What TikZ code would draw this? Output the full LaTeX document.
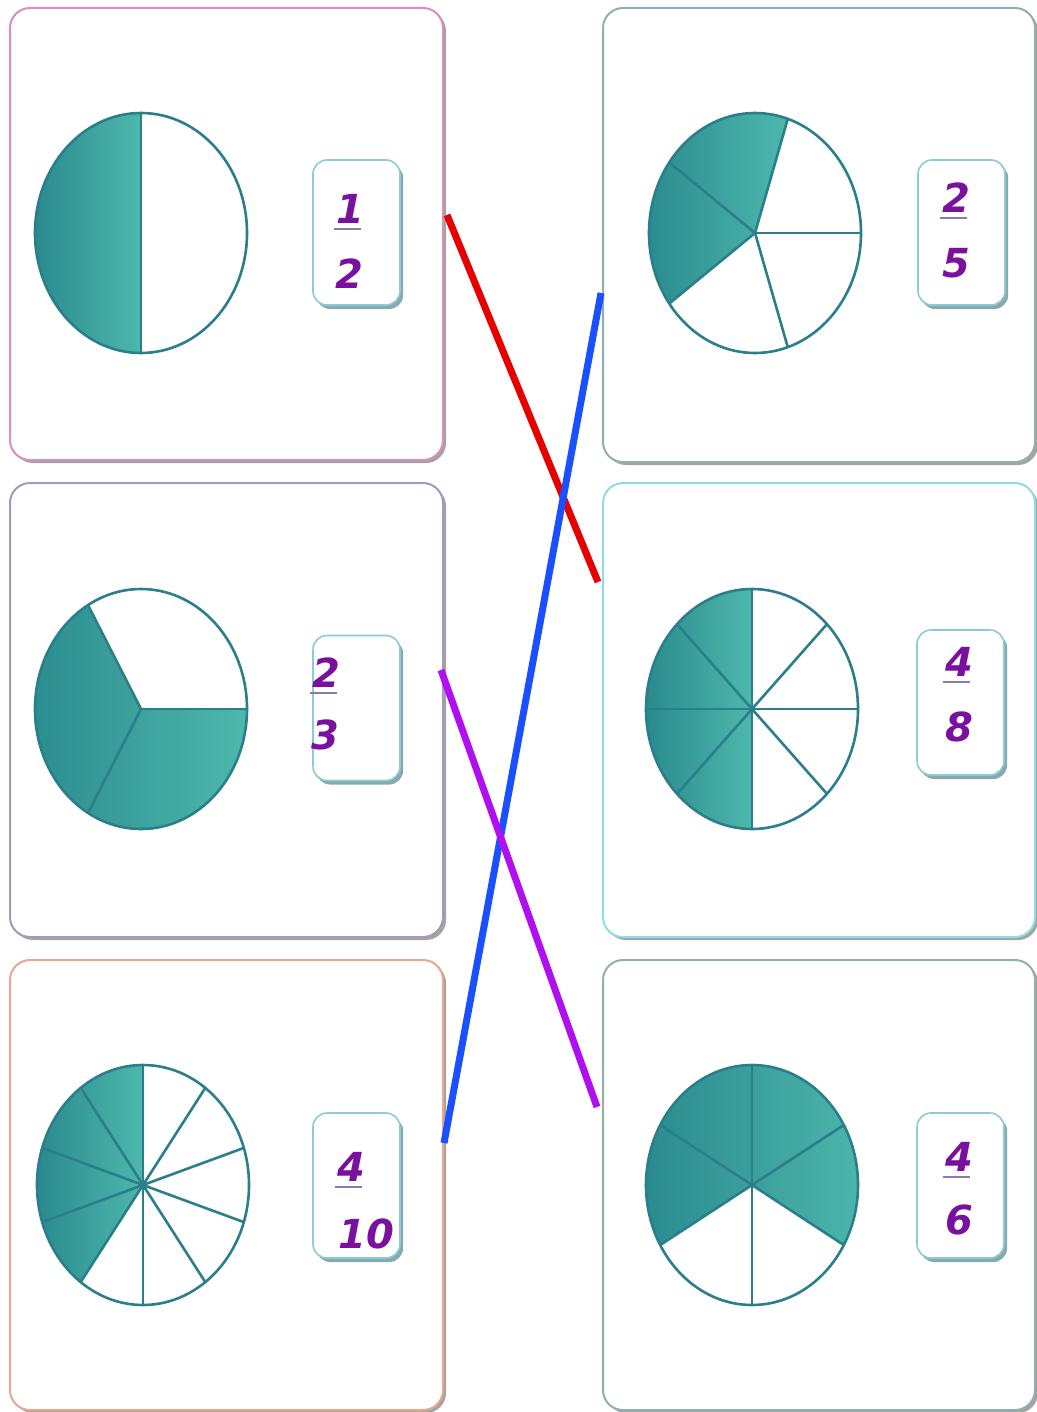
\documentclass[tikz,border=0pt]{standalone}
\usepackage{fontspec}
\newfontfamily\numfont{DejaVu Sans}
\usetikzlibrary{shadows}
\definecolor{tealdark}{HTML}{2A8A8E}
\definecolor{teallight}{HTML}{4DB8AC}
\definecolor{tealline}{HTML}{2A7F8A}
\definecolor{numcol}{HTML}{7A109E}
\definecolor{ulcol}{HTML}{8A7AB0}
\definecolor{bL1}{HTML}{D88FB8}
\definecolor{bL2}{HTML}{A898B8}
\definecolor{bL3}{HTML}{E8A890}
\definecolor{bR1}{HTML}{90B0B0}
\definecolor{bR2}{HTML}{8EDDE6}
\definecolor{bR3}{HTML}{90B0B0}
\definecolor{fbox}{HTML}{8CCBD3}
\definecolor{fshadow}{HTML}{5E8E96}
\definecolor{redline}{HTML}{E60000}
\definecolor{blueline}{HTML}{1A50FF}
\definecolor{purpline}{HTML}{B010F0}
\newcommand\fracpie[4]{%
  \shade[left color=tealdark,right color=teallight] (#1) -- ++(#3:53pt and 60pt)
    arc[start angle=#3,end angle=#4,x radius=53pt,y radius=60pt] -- cycle;
  \draw[pieline] (#1) ellipse[x radius=53pt,y radius=60pt];
  \foreach \k in {1,...,#2} \draw[pieline] (#1) -- ++({#3+360/#2*\k}:53pt and 60pt);
}
\tikzset{
  card/.style={draw=#1,line width=1pt,fill=white,rounded corners=10pt,
    minimum width=216.5pt,minimum height=226pt,
    drop shadow={shadow xshift=1.5pt,shadow yshift=-1.5pt,fill=black!60,opacity=0.6}},
  fracbox/.style={draw=fbox,line width=0.8pt,fill=white,rounded corners=7pt,
    minimum width=43.5pt,minimum height=72.5pt,
    drop shadow={shadow xshift=1.6pt,shadow yshift=-2pt,fill=fshadow,opacity=0.75}},
  num/.style={text=numcol,font=\numfont\bfseries\itshape\fontsize{20}{20}\selectfont,
    inner xsep=0pt,inner ysep=2.5pt},
  uline/.style={draw=ulcol,line width=0.8pt},
  pieline/.style={draw=tealline,line width=1.3pt},
  link/.style={line width=3.5pt}
}
\begin{document}
\begin{tikzpicture}[x=0.5pt,y=0.5pt]
\useasboundingbox[fill=white] (0,0) rectangle (1037,-1412);
% cards
\node[card=bL1] (L1) at (226.5,-234) {};
\node[card=bL2,minimum height=227pt] (L2) at (226.5,-710) {};
\node[card=bL3,minimum height=225pt] (L3) at (226.5,-1185) {};
\node[card=bR1,minimum width=216pt,minimum height=227pt] (R1) at (819,-235) {};
\node[card=bR2,minimum width=216pt,minimum height=227pt] (R2) at (819,-710) {};
\node[card=bR3,minimum width=216pt,minimum height=225pt] (R3) at (819,-1185) {};
% pies
\coordinate (p1) at (141,-233);
\coordinate (p2) at (141,-709);
\coordinate (p3) at (143,-1185);
\coordinate (p4) at (755,-233);
\coordinate (p5) at (752,-709);
\coordinate (p6) at (752,-1185);
\fracpie{p1}{2}{90}{270}
\fracpie{p2}{3}{120}{360}
\fracpie{p3}{10}{90}{234}
\fracpie{p4}{5}{72}{216}
\fracpie{p5}{8}{90}{270}
\fracpie{p6}{6}{-30}{210}
% fraction boxes
\node[fracbox] (F1) at (356.5,-232.5) {};
\node[fracbox] (F2) at (356.5,-708) {};
\node[fracbox] (F3) at (356.5,-1185.5) {};
\node[fracbox] (F4) at (961.5,-232.5) {};
\node[fracbox] (F5) at (960.5,-702.5) {};
\node[fracbox] (F6) at (960.5,-1185.5) {};
% numbers
\node[num] (n1) at (350,-209) {1};
\node[num] (d1) at (349,-274) {2};
\node[num] (n2) at (326,-673) {2};
\node[num] (d2) at (325,-735) {3};
\node[num] (n3) at (351,-1167) {4};
\node[num] (d3) at (366,-1234) {10};
\node[num] (n4) at (956,-198) {2};
\node[num] (d4) at (956,-263) {5};
\node[num] (n5) at (959,-662) {4};
\node[num] (d5) at (959,-727) {8};
\node[num] (n6) at (959,-1157) {4};
\node[num] (d6) at (959,-1220) {6};
\foreach \n in {n1,n2,n3,n4,n5,n6}
  \draw[uline] ([xshift=-1pt]\n.south west) -- ([xshift=-1.5pt]\n.south east);
% connectors
\coordinate (a1) at (447,-215);
\coordinate (b1) at (598,-582);
\coordinate (a2) at (601,-293);
\coordinate (b2) at (444,-1143);
\coordinate (a3) at (441,-670);
\coordinate (b3) at (597,-1107);
\draw[link,redline] (a1) -- (b1);
\draw[link,blueline] (a2) -- (b2);
\draw[link,purpline] (a3) -- (b3);
\end{tikzpicture}
\end{document}
